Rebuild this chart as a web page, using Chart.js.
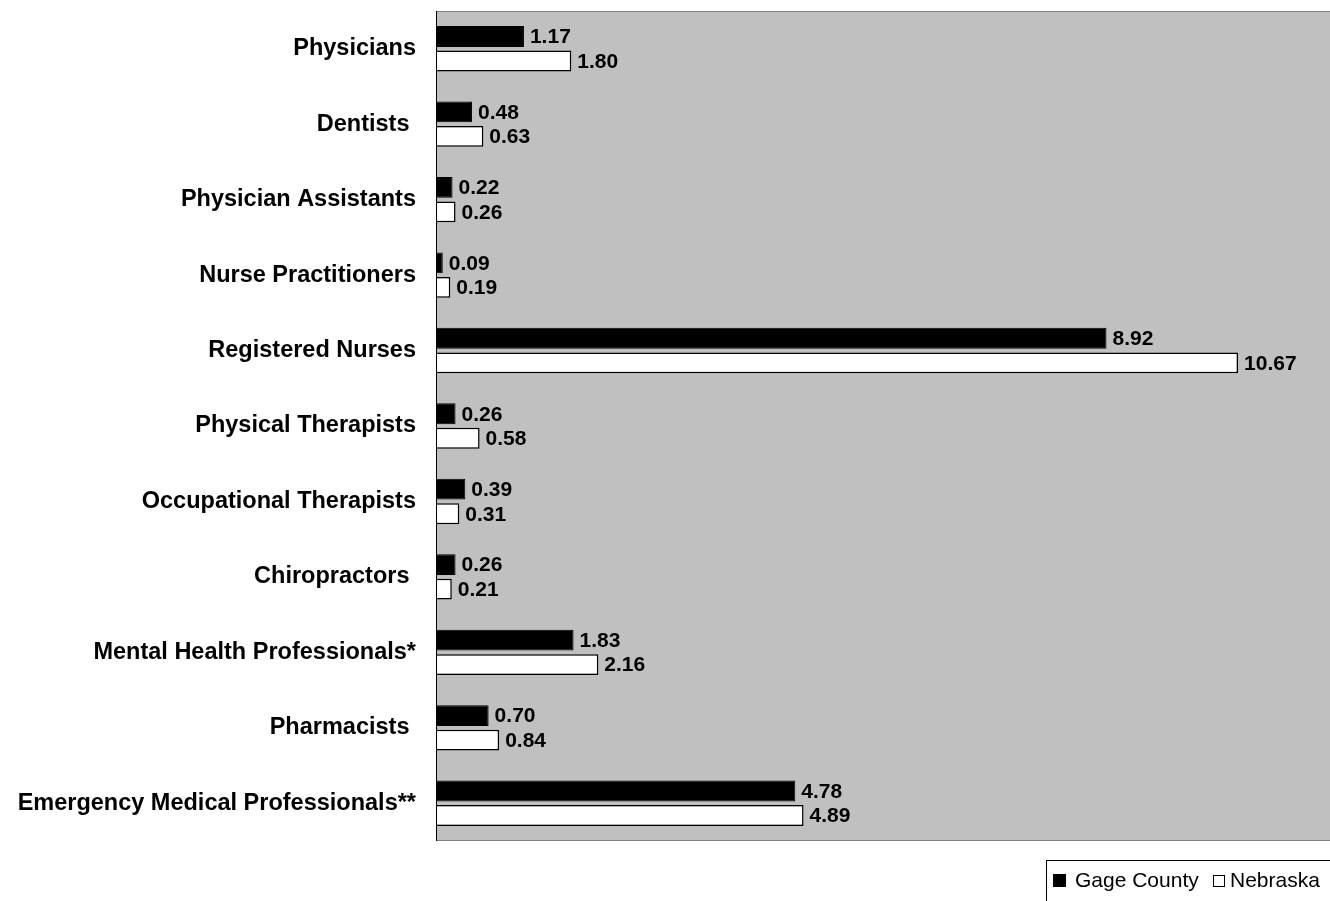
<!DOCTYPE html>
<html>
<head>
<meta charset="utf-8">
<script src="https://cdn.jsdelivr.net/npm/chart.js@4/dist/chart.umd.min.js"></script>
<style>
  html, body { margin: 0; padding: 0; background: #fff; overflow: hidden; }
  #chart { display: block; }
</style>
</head>
<body>
<canvas id="chart" width="1340" height="901"></canvas>
<script>
var categories = [
    "Physicians",
    "Dentists ",
    "Physician Assistants",
    "Nurse Practitioners",
    "Registered Nurses",
    "Physical Therapists",
    "Occupational Therapists",
    "Chiropractors ",
    "Mental Health Professionals*",
    "Pharmacists ",
    "Emergency Medical Professionals**"
];
var gageCounty = [1.17, 0.48, 0.22, 0.09, 8.92, 0.26, 0.39, 0.26, 1.83, 0.70, 4.78];
var nebraska = [1.80, 0.63, 0.26, 0.19, 10.67, 0.58, 0.31, 0.21, 2.16, 0.84, 4.89];
var seriesNames = ["Gage County", "Nebraska"];

var plotBackground = {
    id: 'plotBackground',
    beforeDraw: function(chart) {
        var ctx = chart.ctx, a = chart.chartArea;
        ctx.save();
        ctx.fillStyle = '#c0c0c0';
        ctx.fillRect(a.left, a.top, a.right - a.left, a.bottom - a.top);
        ctx.strokeStyle = '#808080';
        ctx.lineWidth = 1;
        ctx.beginPath();
        ctx.moveTo(a.left, a.top + 0.5);
        ctx.lineTo(a.right, a.top + 0.5);
        ctx.moveTo(a.left, a.bottom - 0.5);
        ctx.lineTo(a.right, a.bottom - 0.5);
        ctx.stroke();
        ctx.restore();
    }
};

var valueLabels = {
    id: 'valueLabels',
    afterDatasetsDraw: function(chart) {
        var ctx = chart.ctx, a = chart.chartArea;
        ctx.save();
        // left axis line over the bars
        ctx.strokeStyle = '#000';
        ctx.lineWidth = 1;
        ctx.beginPath();
        ctx.moveTo(a.left + 0.5, a.top);
        ctx.lineTo(a.left + 0.5, a.bottom);
        ctx.stroke();

        ctx.font = 'bold 21px "Liberation Sans", Arial, sans-serif';
        ctx.fillStyle = '#000';
        ctx.textAlign = 'left';
        ctx.textBaseline = 'middle';
        chart.data.datasets.forEach(function(ds, i) {
            chart.getDatasetMeta(i).data.forEach(function(bar, j) {
                ctx.fillText(ds.data[j].toFixed(2), bar.x + 6, bar.y + 1);
            });
        });
        ctx.restore();
    }
};

var boxedLegend = {
    id: 'boxedLegend',
    afterDraw: function(chart) {
        var ctx = chart.ctx;
        ctx.save();
        ctx.strokeStyle = '#000';
        ctx.lineWidth = 1;
        ctx.strokeRect(1046.5, 860.5, 400, 100);
        ctx.font = '21px "Liberation Sans", Arial, sans-serif';
        ctx.textBaseline = 'alphabetic';
        ctx.fillStyle = '#000';
        ctx.fillRect(1053, 874, 13, 13);
        ctx.fillText(seriesNames[0], 1075, 887);
        ctx.fillStyle = '#fff';
        ctx.fillRect(1213, 875, 11, 11);
        ctx.strokeStyle = '#000';
        ctx.strokeRect(1213.5, 875.5, 11, 11);
        ctx.fillStyle = '#000';
        ctx.fillText(seriesNames[1], 1230, 887);
        ctx.restore();
    }
};

new Chart(document.getElementById('chart'), {
    type: 'bar',
    data: {
        labels: categories,
        datasets: [
            {
                label: seriesNames[0],
                data: gageCounty,
                backgroundColor: '#000',
                borderColor: '#000',
                borderWidth: 1,
                categoryPercentage: 0.65,
                barPercentage: 0.85
            },
            {
                label: seriesNames[1],
                data: nebraska,
                backgroundColor: '#fff',
                borderColor: '#000',
                borderWidth: 1.5,
                categoryPercentage: 0.65,
                barPercentage: 0.85
            }
        ]
    },
    options: {
        indexAxis: 'y',
        responsive: false,
        animation: false,
        devicePixelRatio: 1,
        layout: {
            padding: { top: 11, bottom: 60, left: 0, right: 2 }
        },
        plugins: {
            legend: { display: false },
            tooltip: { enabled: false }
        },
        scales: {
            x: {
                display: false,
                min: 0,
                max: 12
            },
            y: {
                afterFit: function(scale) {
                    scale.width = 436;
                    scale.paddingTop = 0;
                    scale.paddingBottom = 0;
                },
                grid: { display: false, drawTicks: false },
                border: { display: false },
                ticks: {
                    padding: 20,
                    color: '#000',
                    font: { family: '"Liberation Sans", Arial, sans-serif', size: 23.5, weight: 'bold' }
                }
            }
        }
    },
    plugins: [plotBackground, valueLabels, boxedLegend]
});
</script>
</body>
</html>
